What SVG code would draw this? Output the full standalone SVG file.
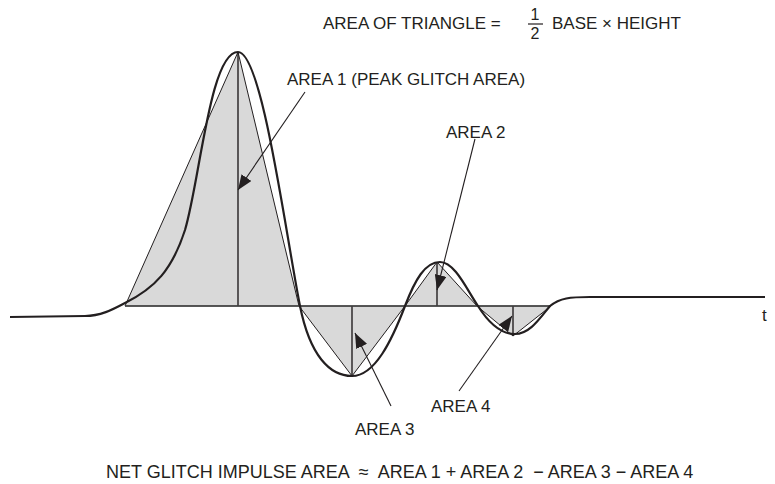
<svg xmlns="http://www.w3.org/2000/svg" width="775" height="484" viewBox="0 0 775 484">
<defs>
<style>
text{font-family:"Liberation Sans",Arial,sans-serif;font-size:17px;fill:#231f20;white-space:pre}
.tri{fill:#d9d9d9;stroke:#231f20;stroke-width:1;stroke-linejoin:miter}
.ht{stroke:#231f20;stroke-width:1.4;fill:none}
.curve{fill:none;stroke:#231f20;stroke-width:2.2;stroke-linejoin:round}
.arr{stroke:#231f20;stroke-width:1.1;fill:none;marker-end:url(#ah)}
</style>
<marker id="ah" markerUnits="userSpaceOnUse" markerWidth="16" markerHeight="12" refX="15" refY="6" orient="auto">
<path d="M0,0 L15,6 L0,12 Z" fill="#231f20"/>
</marker>
</defs>
<rect width="775" height="484" fill="#fff"/>
<g id="title">
<text x="323" y="29">AREA OF TRIANGLE =</text>
<text x="535" y="20" text-anchor="middle" style="font-size:16px">1</text>
<line x1="528" y1="24" x2="543" y2="24" stroke="#231f20" stroke-width="1.2"/>
<text x="535" y="39" text-anchor="middle" style="font-size:16px">2</text>
<text x="552" y="29">BASE × HEIGHT</text>
</g>
<g id="areas">
<g id="area1"><polygon class="tri" points="125,306 238,52 299,306"/><line class="ht" x1="238" y1="52" x2="238" y2="306"/></g>
<g id="area3"><polygon class="tri" points="299,306 352,376 405,306"/><line class="ht" x1="352" y1="306" x2="352" y2="376"/></g>
<g id="area2"><polygon class="tri" points="405,306 437,262 477,306"/><line class="ht" x1="437" y1="262" x2="437" y2="306"/></g>
<g id="area4"><polygon class="tri" points="477,306 513,336 551,306"/><line class="ht" x1="513" y1="306" x2="513" y2="336"/></g>
<line x1="125" y1="306" x2="551" y2="306" stroke="#444" stroke-width="1.4"/>
</g>
<g id="waveform">
<path class="curve" d="M10,317 L85,316 C100,316 112,310 125,303 C155,288 172,270 185,230 C200,180 210,52 238,52 C262,52 285,230 300,306 C310,356 330,376 352,376 C375,376 392,340 405,306 C415,280 425,262 440,262 C455,262 467,290 478,306 C488,322 500,334 515,334 C530,334 540,318 550,306 C560,298 570,297 590,297 L765,297"/>
</g>
<g id="connectors">
<line class="arr" x1="305" y1="92" x2="238" y2="190"/>
<line class="arr" x1="475" y1="139" x2="437" y2="290"/>
<line class="arr" x1="391" y1="406" x2="355" y2="333"/>
<line class="arr" x1="459" y1="391" x2="512" y2="316"/>
</g>
<g id="labels">
<text x="287" y="85">AREA 1 (PEAK GLITCH AREA)</text>
<text x="446" y="138">AREA 2</text>
<text x="355" y="435">AREA 3</text>
<text x="431" y="412">AREA 4</text>
<text x="762" y="321">t</text>
<text x="106" y="478" xml:space="preserve" style="font-size:18px">NET GLITCH IMPULSE AREA  ≈  AREA 1 + AREA 2  − AREA 3 − AREA 4</text>
</g>
</svg>
